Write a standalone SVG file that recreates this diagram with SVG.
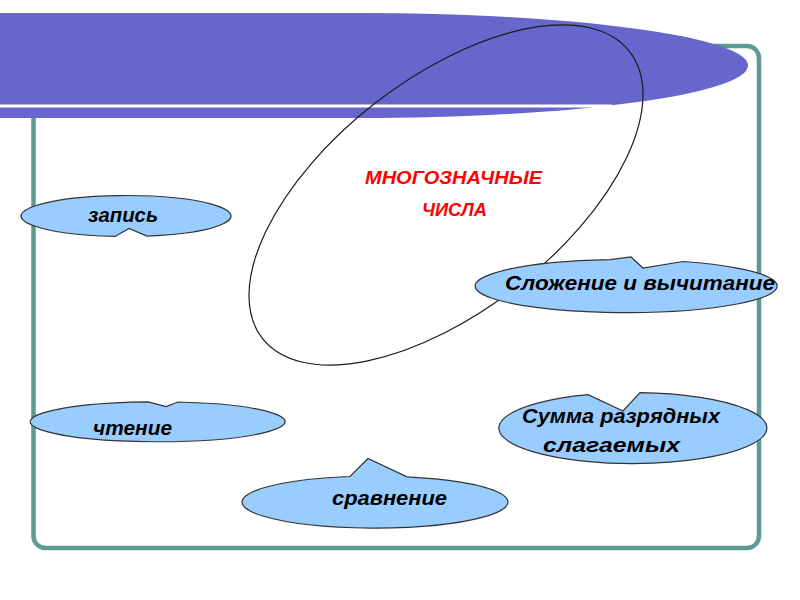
<svg xmlns="http://www.w3.org/2000/svg" width="800" height="600" viewBox="0 0 800 600">
<style>
.frame{fill:none;stroke:#5E9A94;stroke-width:4.5}
.banner{fill:#6666CC}
.gap{stroke:#FFFFFF;stroke-width:3}
.oval{fill:none;stroke:#1A1A1A;stroke-width:1.2}
.callout{fill:#99CCFF;stroke:#333333;stroke-width:1.2;stroke-linejoin:miter}
.lbl{font-family:"Liberation Sans",Arial,sans-serif;font-weight:bold;font-style:italic;font-size:19.5px;fill:#000000;text-anchor:middle}
.title{font-family:"Liberation Sans",Arial,sans-serif;font-weight:bold;font-style:italic;font-size:17.5px;fill:#FF0000;text-anchor:middle}
</style>
<rect width="800" height="600" fill="#FFFFFF"/>
<g id="frame">
<rect class="frame" x="33.5" y="46" width="725.5" height="502" rx="12"/>
</g>
<g id="banner">
<path class="banner" d="M0,13 H358 A390,52.5 0 0 1 358,118 H0 Z"/>
<line class="gap" x1="0" y1="106" x2="612" y2="106"/>
</g>
<g id="center">
<ellipse class="oval" cx="446" cy="195" rx="233" ry="116" transform="rotate(-38 446 195)"/>
<text class="title" x="453.5" y="184" textLength="177" lengthAdjust="spacingAndGlyphs">МНОГОЗНАЧНЫЕ</text>
<text class="title" x="454.5" y="216" textLength="65" lengthAdjust="spacingAndGlyphs">ЧИСЛА</text>
</g>
<g id="zapis">
<path class="callout" d="M147,236.1 A105,20.5 0 1 0 115,236.4 L129,228.5 Z"/>
<text class="lbl" x="123" y="222" textLength="70" lengthAdjust="spacingAndGlyphs">запись</text>
</g>
<g id="slozhenie">
<path class="callout" d="M683,261.5 A151,26.5 0 1 1 610,259.7 L631,257 L643,268 Z"/>
<text class="lbl" x="640" y="290" textLength="270" lengthAdjust="spacingAndGlyphs">Сложение и вычитание</text>
</g>
<g id="chtenie">
<path class="callout" d="M178,402 A127.5,20 0 1 1 148,401.8 L166,406.5 Z"/>
<text class="lbl" x="132.5" y="435" textLength="79" lengthAdjust="spacingAndGlyphs">чтение</text>
</g>
<g id="summa">
<path class="callout" d="M640,392.6 A134,35.5 0 1 1 588,394.6 L623,411 Z"/>
<text class="lbl" x="621" y="423" textLength="198" lengthAdjust="spacingAndGlyphs">Сумма разрядных</text>
<text class="lbl" x="611.5" y="451.5" textLength="137" lengthAdjust="spacingAndGlyphs">слагаемых</text>
</g>
<g id="sravnenie">
<path class="callout" d="M407,476.8 A133,26 0 1 1 350,476.5 L368,458.5 Z"/>
<text class="lbl" x="389.5" y="505" textLength="115" lengthAdjust="spacingAndGlyphs">сравнение</text>
</g>
<g id="connectors"/>
</svg>
